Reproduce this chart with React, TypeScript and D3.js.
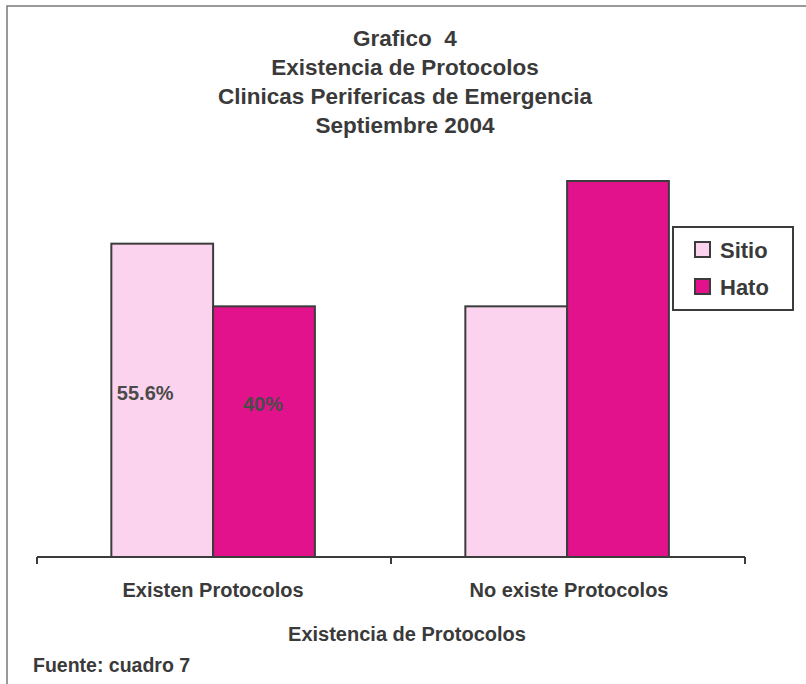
import * as d3 from 'd3';
import { useEffect, useRef } from 'react';

const titleLines = ['Grafico  4', 'Existencia de Protocolos', 'Clinicas Perifericas de Emergencia', 'Septiembre 2004'];
const categories = ['Existen Protocolos', 'No existe Protocolos'];
const seriesNames = ['Sitio', 'Hato'];
// counts per series (bars are drawn from these)
const sitioValues = [5, 4];
const hatoValues = [4, 6];
// data labels shown on the first group only
const sitioLabels = ['55.6%', ''];
const hatoLabels = ['40%', ''];
const axisTitle = 'Existencia de Protocolos';
const sourceNote = 'Fuente: cuadro 7';

export default function App() {
  const ref = useRef<SVGSVGElement | null>(null);

  useEffect(() => {
    if (!ref.current) return;
    const svg = d3.select(ref.current);
    svg.selectAll('*').remove();

    const width = 806;
    const height = 684;
    const font = '"Liberation Sans", Arial, sans-serif';
    const ink = '#3a3a3a';
    const colors = ['#fbd3ee', '#e2128c'];

    svg.attr('viewBox', `0 0 ${width} ${height}`);
    svg.append('rect').attr('width', width).attr('height', height).attr('fill', '#fff');

    // scanned page frame (top + left only)
    svg.append('path')
      .attr('d', `M7,${height} V6 H${width}`)
      .attr('fill', 'none')
      .attr('stroke', '#7a7a7a')
      .attr('stroke-width', 1.5);

    // Title
    titleLines.forEach((t, i) => {
      svg.append('text')
        .attr('x', 405)
        .attr('y', 46 + i * 29)
        .attr('text-anchor', 'middle')
        .attr('font-family', font)
        .attr('font-weight', 'bold')
        .attr('font-size', 22.5)
        .attr('fill', ink)
        .style('white-space', 'pre')
        .text(t);
    });

    const plotLeft = 37;
    const plotRight = 745;
    const baseY = 557;

    const x0 = d3.scaleBand<string>().domain(categories).range([plotLeft, plotRight]).padding(0);
    const bw = x0.bandwidth();
    const x1 = d3.scaleBand<string>().domain(seriesNames).range([bw * 0.21, bw * 0.785]).padding(0);
    const y = d3.scaleLinear().domain([0, 6]).range([baseY, 181]);
    const color = d3.scaleOrdinal<string, string>().domain(seriesNames).range(colors);

    const rows = categories.map((c, i) => ({
      cat: c,
      values: [
        { s: 'Sitio', v: sitioValues[i], label: sitioLabels[i] },
        { s: 'Hato', v: hatoValues[i], label: hatoLabels[i] },
      ],
    }));

    const groups = svg.append('g')
      .selectAll('g')
      .data(rows)
      .enter()
      .append('g')
      .attr('transform', (d) => `translate(${x0(d.cat)},0)`);

    groups.selectAll('rect')
      .data((d) => d.values)
      .enter()
      .append('rect')
      .attr('x', (d) => x1(d.s) || 0)
      .attr('y', (d) => y(d.v))
      .attr('width', x1.bandwidth())
      .attr('height', (d) => baseY - y(d.v))
      .attr('fill', (d) => color(d.s))
      .attr('stroke', '#3c3c3c')
      .attr('stroke-width', 2);

    // data labels
    groups.selectAll('text.lbl')
      .data((d) => d.values.filter((v) => v.label))
      .enter()
      .append('text')
      .attr('class', 'lbl')
      .attr('x', (d) => (x1(d.s) || 0) + x1.bandwidth() / 2 + (d.s === 'Sitio' ? -17 : -1))
      .attr('y', (d) => (d.s === 'Sitio' ? 400 : 411))
      .attr('text-anchor', 'middle')
      .attr('font-family', font)
      .attr('font-weight', 'bold')
      .attr('font-size', 20)
      .attr('fill', '#4a4a4a')
      .text((d) => d.label);

    // category axis
    const axis = svg.append('g').attr('transform', `translate(0,${baseY})`);
    axis.append('line')
      .attr('x1', plotLeft).attr('x2', plotRight)
      .attr('stroke', '#3c3c3c').attr('stroke-width', 2);
    const tickXs = [plotLeft, ...categories.map((c) => (x0(c) || 0) + bw)];
    axis.selectAll('line.tick')
      .data(tickXs)
      .enter()
      .append('line')
      .attr('class', 'tick')
      .attr('x1', (d) => d).attr('x2', (d) => d)
      .attr('y1', 0).attr('y2', 7)
      .attr('stroke', '#3c3c3c').attr('stroke-width', 2);
    axis.selectAll('text')
      .data(categories)
      .enter()
      .append('text')
      .attr('x', (d, i) => (x0(d) || 0) + bw / 2 - (i === 0 ? 1 : -1))
      .attr('y', 40)
      .attr('text-anchor', 'middle')
      .attr('font-family', font)
      .attr('font-weight', 'bold')
      .attr('font-size', 20)
      .attr('fill', ink)
      .text((d) => d);

    svg.append('text')
      .attr('x', 407)
      .attr('y', 641)
      .attr('text-anchor', 'middle')
      .attr('font-family', font)
      .attr('font-weight', 'bold')
      .attr('font-size', 20)
      .attr('fill', ink)
      .text(axisTitle);

    svg.append('text')
      .attr('x', 33)
      .attr('y', 672)
      .attr('font-family', font)
      .attr('font-weight', 'bold')
      .attr('font-size', 19.5)
      .attr('fill', ink)
      .text(sourceNote);

    // Legend
    const legend = svg.append('g').attr('transform', 'translate(673,227)');
    legend.append('rect')
      .attr('width', 120).attr('height', 83)
      .attr('fill', '#fff').attr('stroke', '#3c3c3c').attr('stroke-width', 2);
    seriesNames.forEach((s, i) => {
      const g = legend.append('g').attr('transform', `translate(22,${15 + i * 37})`);
      g.append('rect').attr('width', 15).attr('height', 15)
        .attr('fill', color(s)).attr('stroke', '#3c3c3c').attr('stroke-width', 2);
      g.append('text')
        .attr('x', 25).attr('y', 16)
        .attr('font-family', font)
        .attr('font-weight', 'bold')
        .attr('font-size', 22)
        .attr('fill', ink)
        .text(s);
    });
  }, []);

  return (
    <svg
      ref={ref}
      width={806}
      height={684}
      style={{ position: 'absolute', left: 0, top: 0, display: 'block' }}
      role="img"
      aria-label="Existencia de Protocolos"
    />
  );
}
